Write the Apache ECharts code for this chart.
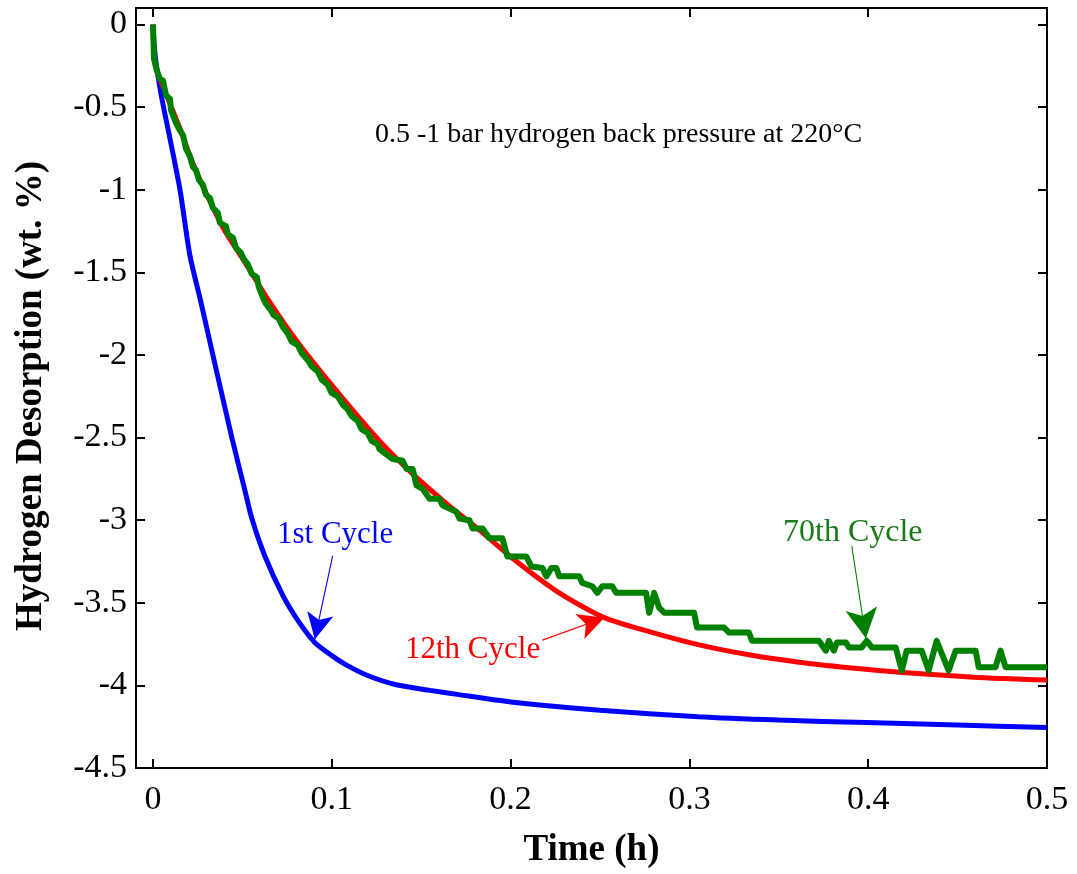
<!DOCTYPE html>
<html>
<head>
<meta charset="utf-8">
<script src="https://cdn.jsdelivr.net/npm/echarts@6/dist/echarts.min.js"></script>
<style>
  html, body { margin: 0; padding: 0; background: #fff; }
  #chart { width: 1077px; height: 874px; }
</style>
</head>
<body>
<div id="chart"></div>
<script>
// time (h), hydrogen desorption (wt. %)
const cycle1 = [
  [0, 0], [0.0006, -0.12], [0.0022, -0.27], [0.005, -0.45], [0.0095, -0.69],
  [0.0151, -1.0], [0.0207, -1.40], [0.0268, -1.68], [0.0335, -2.0], [0.0441, -2.5],
  [0.0514, -2.82], [0.0553, -2.99], [0.0625, -3.215], [0.0726, -3.455], [0.081, -3.606],
  [0.0905, -3.74], [0.1, -3.82], [0.108, -3.876], [0.12, -3.94], [0.136, -3.996],
  [0.155, -4.03], [0.171, -4.056], [0.2, -4.1], [0.25, -4.15], [0.305, -4.19],
  [0.35, -4.21], [0.399, -4.225], [0.45, -4.24], [0.5, -4.255]
];

const cycle12 = [
  [0, 0], [0.0006, -0.18], [0.0022, -0.28], [0.005, -0.36], [0.0095, -0.48],
  [0.0151, -0.63], [0.0223, -0.84], [0.0318, -1.07], [0.0402, -1.25], [0.0503, -1.42],
  [0.0653, -1.68], [0.0821, -1.94], [0.1044, -2.24], [0.1267, -2.52], [0.1452, -2.72],
  [0.1642, -2.90], [0.1826, -3.06], [0.2010, -3.23], [0.2272, -3.44], [0.2524, -3.59],
  [0.2775, -3.675], [0.3054, -3.755], [0.3333, -3.815], [0.3613, -3.86], [0.3892, -3.893],
  [0.4171, -3.92], [0.4590, -3.95], [0.5, -3.968]
];

const cycle70 = [
  [0, 0], [0.0006, -0.21], [0.0022, -0.28], [0.0039, -0.33], [0.0056, -0.34],
  [0.0073, -0.43], [0.0095, -0.45], [0.0101, -0.52], [0.0123, -0.58], [0.0145, -0.63],
  [0.0168, -0.67], [0.0184, -0.75], [0.0207, -0.80], [0.0223, -0.86], [0.0240, -0.88],
  [0.0257, -0.94], [0.0279, -0.97], [0.0296, -1.03], [0.0318, -1.05], [0.0335, -1.11],
  [0.0363, -1.14], [0.0374, -1.20], [0.0408, -1.22], [0.0419, -1.27], [0.0447, -1.29],
  [0.0463, -1.35], [0.0491, -1.38], [0.0508, -1.42], [0.0530, -1.45], [0.0553, -1.51],
  [0.0581, -1.53], [0.0592, -1.59], [0.0614, -1.65], [0.0631, -1.69], [0.0653, -1.72],
  [0.0676, -1.76], [0.0704, -1.78], [0.0726, -1.83], [0.0754, -1.87], [0.0776, -1.92],
  [0.0810, -1.94], [0.0832, -1.99], [0.0865, -2.03], [0.0888, -2.07], [0.0921, -2.10],
  [0.0944, -2.15], [0.0977, -2.18], [0.0999, -2.23], [0.1033, -2.25], [0.1061, -2.30],
  [0.1089, -2.33], [0.1111, -2.37], [0.1145, -2.40], [0.1167, -2.45], [0.1200, -2.47],
  [0.1223, -2.52], [0.1256, -2.54], [0.1267, -2.57], [0.1340, -2.63], [0.1396, -2.64],
  [0.1418, -2.69], [0.1452, -2.69], [0.1474, -2.79], [0.1508, -2.81], [0.1547, -2.87],
  [0.1602, -2.87], [0.1619, -2.91], [0.1658, -2.93], [0.1697, -2.95], [0.1714, -2.99],
  [0.1770, -3.00], [0.1787, -3.05], [0.1843, -3.05], [0.1882, -3.11], [0.1954, -3.11],
  [0.1982, -3.22], [0.2088, -3.22], [0.2116, -3.28], [0.2178, -3.29], [0.2200, -3.34],
  [0.2228, -3.29], [0.2256, -3.29], [0.2272, -3.34], [0.2384, -3.34], [0.2401, -3.38],
  [0.2457, -3.40], [0.2485, -3.44], [0.2513, -3.40], [0.2568, -3.40], [0.2591, -3.44],
  [0.2758, -3.44], [0.2775, -3.56], [0.2803, -3.44], [0.2831, -3.53], [0.2859, -3.56],
  [0.3026, -3.56], [0.3043, -3.65], [0.3194, -3.65], [0.3222, -3.68], [0.3333, -3.68],
  [0.3350, -3.73], [0.3724, -3.73], [0.3763, -3.79], [0.3780, -3.73], [0.3808, -3.79],
  [0.3825, -3.74], [0.3875, -3.74], [0.3892, -3.77], [0.3964, -3.77], [0.3992, -3.73],
  [0.4020, -3.77], [0.4154, -3.77], [0.4188, -3.91], [0.4215, -3.79], [0.4299, -3.79],
  [0.4338, -3.91], [0.4383, -3.73], [0.4450, -3.91], [0.4489, -3.79], [0.4601, -3.79],
  [0.4618, -3.89], [0.4712, -3.89], [0.4740, -3.79], [0.4768, -3.89], [0.5, -3.89]
];

const xTicks = [0, 0.1, 0.2, 0.3, 0.4, 0.5];
const yTicks = [-4.5, -4, -3.5, -3, -2.5, -2, -1.5, -1, -0.5, 0];

// annotation arrows: [tail, head] in data units
const arrow1 = [[0.1005, -3.215], [0.0905, -3.72]];
const arrow12 = [[0.2178, -3.726], [0.2524, -3.59]];
const arrow70 = [[0.3908, -3.155], [0.3987, -3.715]];

const SERIF = '"Liberation Serif", "Times New Roman", serif';
const BLUE = "#0000ff";
const RED = "#ff0000";
const GREEN = "#008000";

function arrowLine(pts, color, size) {
  return {
    silent: true,
    animation: false,
    symbol: ["none", "arrow"],
    symbolSize: size,
    label: { show: false },
    lineStyle: { color, width: 1.1, type: "solid" },
    emphasis: { disabled: true },
    data: [[{ coord: pts[0] }, { coord: pts[1] }]],
  };
}

function mirrorAxis(base, pos) {
  return Object.assign({}, base, {
    position: pos,
    name: "",
    axisLabel: { show: false, customValues: base.axisLabel.customValues },
  });
}

const axisLine = { show: true, onZero: false, lineStyle: { color: "#000", width: 2 } };

const xBase = {
  type: "value",
  min: -0.0095,
  max: 0.5,
  axisLine,
  axisTick: { show: true, inside: true, length: 9, lineStyle: { color: "#000", width: 2 }, customValues: xTicks },
  axisLabel: { color: "#000", fontFamily: SERIF, fontSize: 34, margin: 15, customValues: xTicks },
  splitLine: { show: false },
};

const yBase = {
  type: "value",
  min: -4.5,
  max: 0.1,
  axisLine,
  axisTick: { show: true, inside: true, length: 9, lineStyle: { color: "#000", width: 2 }, customValues: yTicks },
  axisLabel: { color: "#000", fontFamily: SERIF, fontSize: 34, margin: 9, customValues: yTicks },
  splitLine: { show: false },
};

const chart = echarts.init(document.getElementById("chart"), null, { renderer: "canvas" });

chart.setOption({
  animation: false,
  backgroundColor: "#fff",
  grid: { left: 136, right: 30, top: 8, bottom: 100, containLabel: false },
  xAxis: [
    Object.assign({}, xBase, {
      position: "bottom",
      name: "Time (h)",
      nameLocation: "middle",
      nameGap: 64,
      nameTextStyle: { color: "#000", fontFamily: SERIF, fontSize: 37, fontWeight: "bold" },
    }),
    mirrorAxis(xBase, "top"),
  ],
  yAxis: [
    Object.assign({}, yBase, {
      position: "left",
      name: "Hydrogen Desorption (wt. %)",
      nameLocation: "middle",
      nameGap: 86,
      nameTextStyle: { color: "#000", fontFamily: SERIF, fontSize: 37, fontWeight: "bold", padding: [0, 16, 0, 0] },
    }),
    mirrorAxis(yBase, "right"),
  ],
  series: [
    {
      name: "1st Cycle",
      type: "line",
      data: cycle1,
      showSymbol: false,
      smooth: 0.25,
      lineStyle: { color: BLUE, width: 5 },
      itemStyle: { color: BLUE },
      markLine: arrowLine(arrow1, BLUE, [20, 26]),
      z: 2,
    },
    {
      name: "12th Cycle",
      type: "line",
      data: cycle12,
      showSymbol: false,
      smooth: 0.25,
      lineStyle: { color: RED, width: 5 },
      itemStyle: { color: RED },
      markLine: arrowLine(arrow12, RED, [20, 26]),
      z: 3,
    },
    {
      name: "70th Cycle",
      type: "line",
      data: cycle70,
      showSymbol: false,
      lineStyle: { color: GREEN, width: 6, join: "round" },
      itemStyle: { color: GREEN },
      markLine: arrowLine(arrow70, GREEN, [24, 30]),
      z: 4,
    },
  ],
  graphic: [
    { type: "text", x: 375, y: 135, style: { text: "0.5 -1 bar hydrogen back pressure at 220°C", font: '28px ' + SERIF, fill: "#000", verticalAlign: "middle" } },
    { type: "text", x: 277, y: 535, style: { text: "1st Cycle", font: '31px ' + SERIF, fill: BLUE, verticalAlign: "middle" } },
    { type: "text", x: 405, y: 650, style: { text: "12th Cycle", font: '31px ' + SERIF, fill: RED, verticalAlign: "middle" } },
    { type: "text", x: 783, y: 533, style: { text: "70th Cycle", font: '32px ' + SERIF, fill: "#1a7a1a", verticalAlign: "middle" } },
  ],
});
</script>
</body>
</html>
